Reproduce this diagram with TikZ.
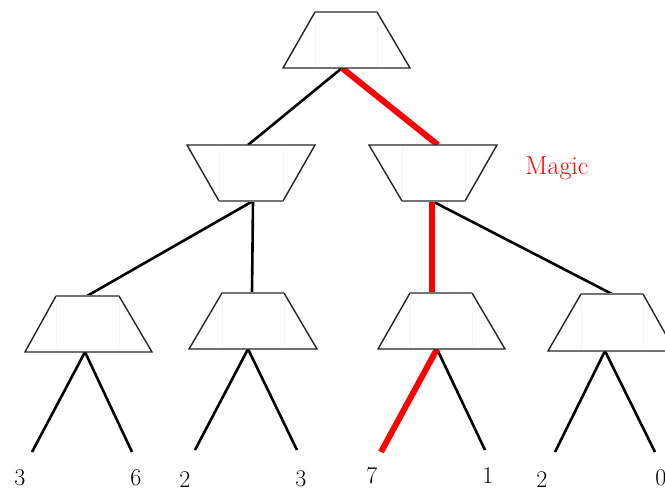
\documentclass[tikz,border=0pt]{standalone}
\begin{document}
\begin{tikzpicture}[x=1pt,y=-1pt,
  edge/.style={line width=2.6pt,black},
  hot/.style={line width=6pt,red},
  side/.style={line width=1.4pt,black!85},
  narrow/.style={line width=1.6pt,black!55},
  faint/.style={line width=0.4pt,black!4},
  num/.style={font=\fontsize{24}{28}\selectfont,inner sep=0pt},
  lbl/.style={font=\fontsize{26}{30}\selectfont,text=red,inner sep=0pt}]
\useasboundingbox (0,0) rectangle (665,492);
% upright trapezoid: #1 top y, #2 bottom y, #3 #4 top x, #5 #6 bottom x
\newcommand\trapUp[6]{%
  \fill[white] (#3,#1) -- (#4,#1) -- (#6,#2) -- (#5,#2) -- cycle;
  \draw[faint] ({#3},#1) -- ({#3},#2) ({#4},#1) -- ({#4},#2);
  \draw[side] (#4,#1) -- (#6,#2) -- (#5,#2) -- (#3,#1);
  \draw[narrow] (#3,#1) -- (#4,#1);}
\newcommand\trapDown[6]{%
  \fill[white] (#3,#1) -- (#4,#1) -- (#6,#2) -- (#5,#2) -- cycle;
  \draw[faint] ({#5},#1) -- ({#5},#2) ({#6},#1) -- ({#6},#2);
  \draw[side] (#6,#2) -- (#4,#1) -- (#3,#1) -- (#5,#2);
  \draw[narrow] (#5,#2) -- (#6,#2);}
% named attachment points
\coordinate (T-out) at (342,68);
\coordinate (A-in) at (248,145);
\coordinate (A-out) at (253,201);
\coordinate (B-in) at (438,145);
\coordinate (B-out) at (432,201);
\coordinate (C1-in) at (87,296);
\coordinate (C1-out) at (85,352);
\coordinate (C2-in) at (252,293);
\coordinate (C2-out) at (248,349);
\coordinate (C3-in) at (432,293);
\coordinate (C3-out) at (437,349);
\coordinate (C4-in) at (612,294);
\coordinate (C4-out) at (605,351);
\coordinate (l1) at (32,452);
\coordinate (l2) at (132,452);
\coordinate (l3) at (195,450);
\coordinate (l4) at (297,450);
\coordinate (l5) at (381,452);
\coordinate (l6) at (485,450);
\coordinate (l7) at (555,452);
\coordinate (l8) at (655,452);
% connectors
\draw[edge] (T-out) -- (A-in);
\draw[edge] (A-out) -- (C1-in);
\draw[edge] (A-out) -- (C2-in);
\draw[edge] (B-out) -- (C4-in);
\draw[edge] (C1-out) -- (l1);
\draw[edge] (C1-out) -- (l2);
\draw[edge] (C2-out) -- (l3);
\draw[edge] (C2-out) -- (l4);
\draw[edge] (C3-out) -- (l6);
\draw[edge] (C4-out) -- (l7);
\draw[edge] (C4-out) -- (l8);
\draw[hot] (T-out) -- (B-in);
\draw[hot] (B-out) -- (C3-in);
\draw[hot] (C3-out) -- (l5);
% trapezoids
\trapUp{12}{68}{315}{377}{283}{410}
\trapDown{145}{201}{187}{315}{219}{283}
\trapDown{145}{201}{369}{497}{402}{465}
\trapUp{296}{352}{56}{119}{25}{152}
\trapUp{293}{349}{222}{284}{189}{317}
\trapUp{293}{349}{410}{472}{378}{505}
\trapUp{294}{351}{581}{643}{548}{675}
% labels
\node[num] (n1) at (20,478) {3};
\node[num] (n2) at (136,478) {6};
\node[num] (n3) at (185,480) {2};
\node[num] (n4) at (301,479) {3};
\node[num] (n5) at (372,476) {7};
\node[num] (n6) at (488,476) {1};
\node[num] (n7) at (542,480) {2};
\node[num] (n8) at (661,478) {0};
\node[lbl] (magic) at (557,168) {Magic};
\end{tikzpicture}
\end{document}
